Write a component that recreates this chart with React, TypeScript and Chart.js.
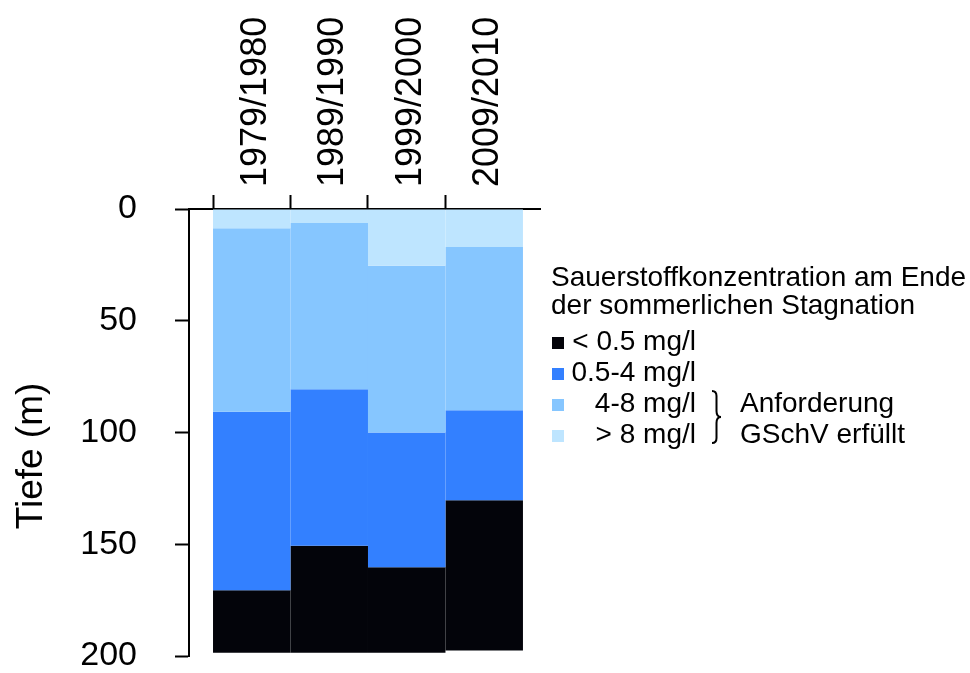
import React, { useEffect, useRef } from 'react';
import { Chart, registerables } from 'chart.js';

Chart.register(...registerables);

const FONT = '"Liberation Sans", Arial, Helvetica, sans-serif';

const categories = ['1979/1980', '1989/1990', '1999/2000', '2009/2010'];
// depth (m) where each oxygen layer ends, per period
const over8Bottom = [8.6, 6.3, 25.4, 17.0];
const from4to8Bottom = [90.7, 80.6, 100.0, 90.0];
const from05to4Bottom = [170.6, 150.7, 160.3, 130.3];
const under05Bottom = [198.5, 198.5, 198.5, 197.5];

const seriesLabels = ['> 8 mg/l', '4-8 mg/l', '0.5-4 mg/l', '< 0.5 mg/l'];
const seriesColors = ['#bee5ff', '#86c6ff', '#3380ff', '#03040a'];
const yTicks = [0, 50, 100, 150, 200];
const yTitle = 'Tiefe (m)';
const legendTitle = ['Sauerstoffkonzentration am Ende', 'der sommerlichen Stagnation'];
const legendItems = ['< 0.5 mg/l', '0.5-4 mg/l', '4-8 mg/l', '> 8 mg/l'];
const legendColors = ['#03040a', '#3380ff', '#86c6ff', '#bee5ff'];
const requirementText = ['Anforderung', 'GSchV erfüllt'];

const layerBottoms = [over8Bottom, from4to8Bottom, from05to4Bottom, under05Bottom];

const overlayPlugin = {
  id: 'overlay',
  afterDraw(chart: any) {
    const ctx = chart.ctx as CanvasRenderingContext2D;
    ctx.save();
    ctx.fillStyle = '#000';
    // y axis title
    ctx.save();
    ctx.font = `37px ${FONT}`;
    ctx.textAlign = 'center';
    ctx.textBaseline = 'middle';
    ctx.translate(32, 456);
    ctx.rotate(-Math.PI / 2);
    ctx.fillText(yTitle, 0, 0);
    ctx.restore();

    // legend
    ctx.font = `28px ${FONT}`;
    ctx.textAlign = 'left';
    ctx.textBaseline = 'alphabetic';
    ctx.fillText(legendTitle[0], 551, 286);
    ctx.fillText(legendTitle[1], 551, 314);
    const baselines = [350, 381, 412, 443];
    legendItems.forEach((t, i) => {
      ctx.fillStyle = legendColors[i];
      ctx.fillRect(552, baselines[i] - 13, 12, 12);
      ctx.fillStyle = '#000';
      ctx.textAlign = 'right';
      ctx.fillText(t, 696, baselines[i]);
    });
    ctx.textAlign = 'left';
    ctx.fillText(requirementText[0], 740, baselines[2]);
    ctx.fillText(requirementText[1], 740, baselines[3]);

    // brace
    ctx.strokeStyle = '#000';
    ctx.lineWidth = 2;
    ctx.beginPath();
    ctx.moveTo(712, 391);
    ctx.quadraticCurveTo(716.5, 391, 716.5, 396);
    ctx.lineTo(716.5, 411);
    ctx.quadraticCurveTo(716.5, 417, 721, 417);
    ctx.quadraticCurveTo(716.5, 417, 716.5, 423);
    ctx.lineTo(716.5, 438);
    ctx.quadraticCurveTo(716.5, 443, 712, 443);
    ctx.stroke();
    ctx.restore();
  },
};

export default function App() {
  const ref = useRef<HTMLCanvasElement | null>(null);

  useEffect(() => {
    document.body.style.margin = '0';
    const canvas = ref.current;
    if (!canvas) return;

    const datasets = seriesLabels.map((label, s) => ({
      label,
      backgroundColor: seriesColors[s],
      borderWidth: 0,
      borderSkipped: false,
      grouped: false,
      // the x ticks sit every half unit, so a full-unit bar needs ratio 2
      barPercentage: 2,
      categoryPercentage: 1,
      data: categories.map((_, j) => ({
        x: j,
        y: [s === 0 ? 0 : layerBottoms[s - 1][j], layerBottoms[s][j]],
      })),
    }));

    const chart = new Chart(canvas, {
      type: 'bar',
      data: { datasets: datasets as any },
      plugins: [overlayPlugin],
      options: {
        animation: false,
        responsive: true,
        maintainAspectRatio: false,
        layout: { padding: { top: 0, left: 0, right: 430, bottom: 17 } },
        plugins: { legend: { display: false }, tooltip: { enabled: false } },
        scales: {
          x: {
            type: 'linear',
            position: 'top',
            offset: false,
            min: -0.81,
            max: categories.length - 0.28,
            afterBuildTicks: (s: any) => {
              const t: any[] = [];
              categories.forEach((_, i) => {
                t.push({ value: i - 0.5 });
                t.push({ value: i });
              });
              s.ticks = t;
            },
            afterFit: (s: any) => {
              s.height = 209;
              s.paddingLeft = 0;
              s.paddingRight = 0;
            },
            grid: {
              offset: false,
              drawOnChartArea: false,
              drawTicks: true,
              tickLength: 14,
              tickWidth: 2,
              tickColor: (c: any) =>
                c.tick && Number.isInteger(c.tick.value) ? 'rgba(0,0,0,0)' : '#000',
            },
            border: { display: true, color: '#000', width: 2 },
            ticks: {
              autoSkip: false,
              minRotation: 90,
              maxRotation: 90,
              padding: 8,
              labelOffset: 40,
              color: '#000',
              font: { family: FONT, size: 36, lineHeight: 1 },
              callback: (v: any) => (Number.isInteger(v) ? categories[v] : ''),
            },
          },
          y: {
            type: 'linear',
            reverse: true,
            min: 0,
            max: 200,
            afterBuildTicks: (s: any) => {
              s.ticks = yTicks.map((v) => ({ value: v }));
            },
            afterFit: (s: any) => {
              s.width = 189;
              s.paddingTop = 0;
              s.paddingBottom = 0;
            },
            grid: {
              offset: false,
              drawOnChartArea: false,
              drawTicks: true,
              tickLength: 14,
              tickWidth: 2,
              tickColor: '#000',
            },
            border: { display: true, color: '#000', width: 2 },
            ticks: {
              padding: 38,
              color: '#000',
              font: { family: FONT, size: 34, lineHeight: 1 },
            },
          },
        },
      } as any,
    });
    return () => chart.destroy();
  }, []);

  return (
    <div style={{ position: 'fixed', left: 0, top: 0, width: 970, height: 673, background: '#fff' }}>
      <canvas ref={ref} />
    </div>
  );
}
